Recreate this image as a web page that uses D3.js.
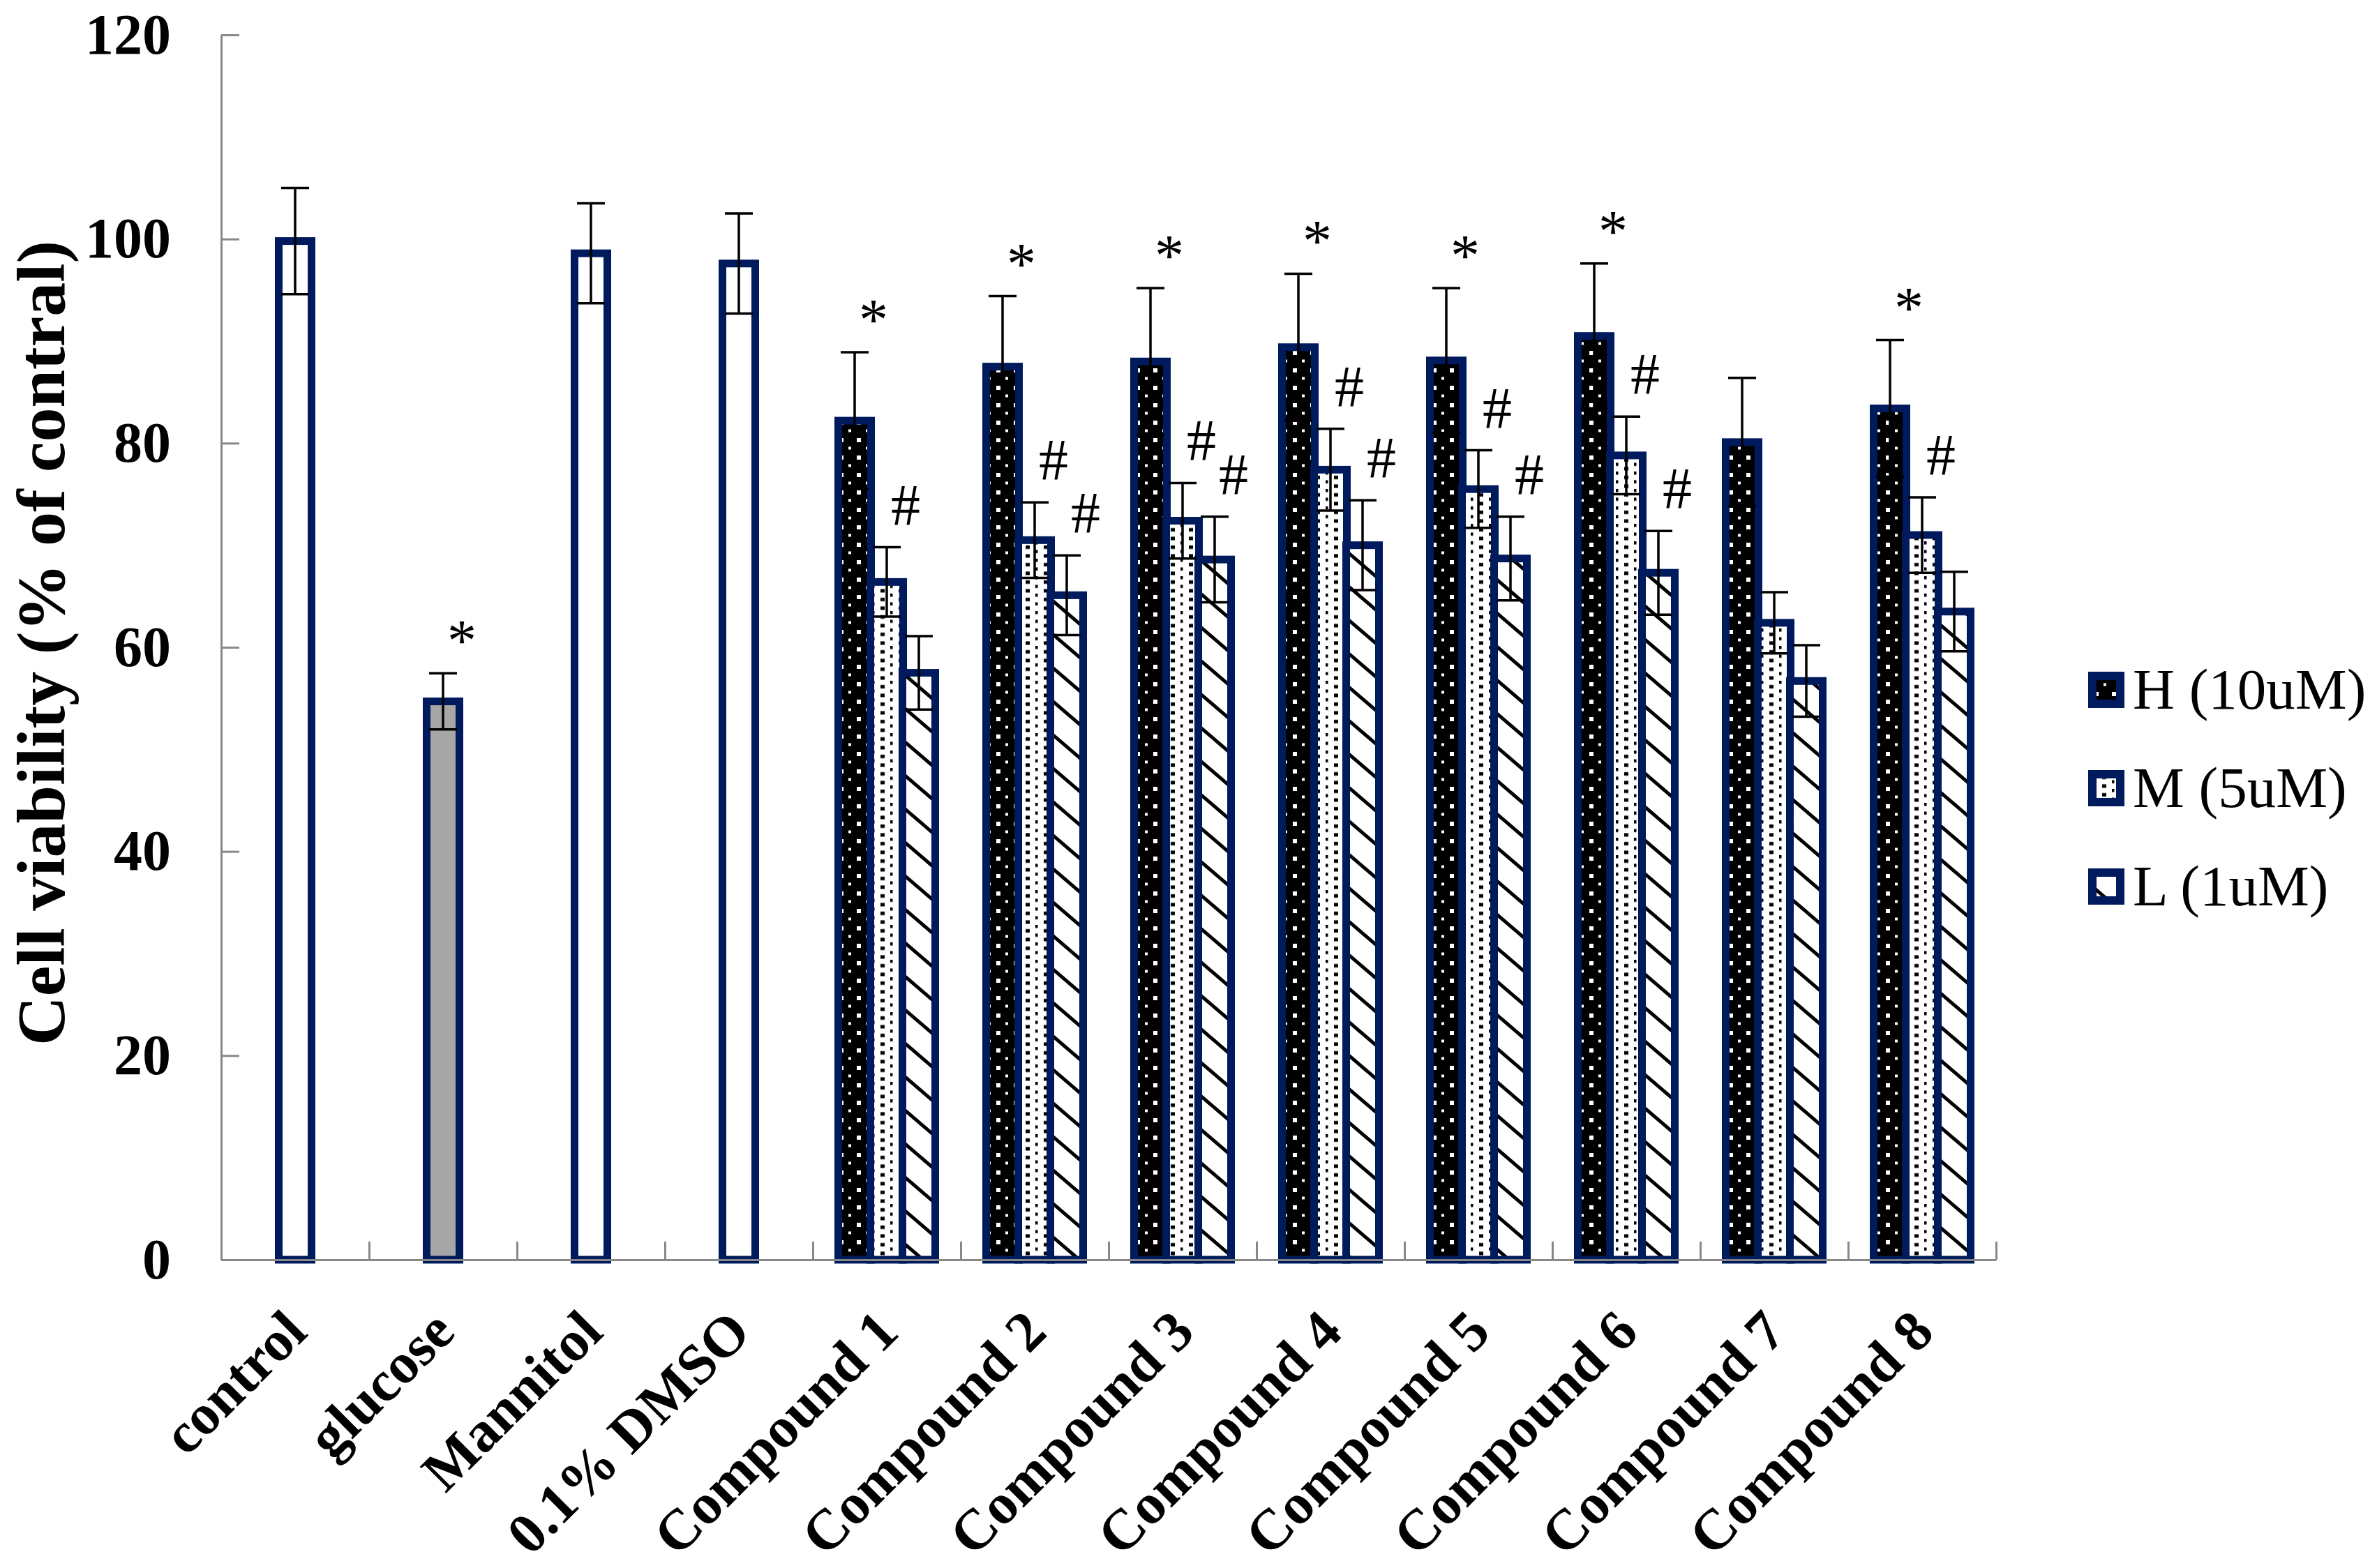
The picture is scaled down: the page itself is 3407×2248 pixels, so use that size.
<!DOCTYPE html>
<html>
<head>
<meta charset="utf-8">
<script src="https://cdn.jsdelivr.net/npm/d3@7"></script>
<style>
  body { margin: 0; background: #fff; }
  svg { display: block; }
</style>
</head>
<body>
<svg id="chart" width="3407" height="2248"></svg>
<script>
// data
var categories = ["control", "glucose", "Mannitol", "0.1% DMSO",
  "Compound 1", "Compound 2", "Compound 3", "Compound 4",
  "Compound 5", "Compound 6", "Compound 7", "Compound 8"];

var singleValues = [99.8, 54.7, 98.6, 97.6];
var singleErrors = [5.2, 2.75, 4.9, 4.9];
var singleMarks  = ["", "*", "", ""];

var seriesNames = ["H (10uM)", "M (5uM)", "L (1uM)"];

var hValues = [82.2, 87.5, 88.0, 89.4, 88.1, 90.5, 80.1, 83.4];
var hErrors = [6.7, 6.9, 7.2, 7.2, 7.1, 7.1, 6.3, 6.7];
var hMarks  = ["*", "*", "*", "*", "*", "*", "", "*"];

var mValues = [66.4, 70.5, 72.4, 77.4, 75.5, 78.8, 62.4, 71.0];
var mErrors = [3.4, 3.7, 3.7, 4.0, 3.8, 3.8, 3.0, 3.7];
var mMarks  = ["#", "#", "#", "#", "#", "#", "", "#"];

var lValues = [57.5, 65.1, 68.6, 70.0, 68.7, 67.3, 56.7, 63.5];
var lErrors = [3.6, 3.9, 4.2, 4.4, 4.1, 4.1, 3.5, 3.9];
var lMarks  = ["", "#", "#", "#", "#", "#", "", ""];

var yTicks = [0, 20, 40, 60, 80, 100, 120];

var navy = "#001a5e",
    axisGrey = "#888888",
    serif = "'Liberation Serif', 'Times New Roman', serif";

var svg = d3.select("#chart");

// fill patterns
var defs = svg.append("defs");

var pH = defs.append("pattern").attr("id", "patH")
    .attr("patternUnits", "userSpaceOnUse").attr("width", 25).attr("height", 25);
pH.append("rect").attr("width", 25).attr("height", 25).attr("fill", "#000");
pH.append("rect").attr("x", 3).attr("y", 3).attr("width", 6).attr("height", 6).attr("fill", "#fff");
pH.append("rect").attr("x", 16).attr("y", 15.5).attr("width", 4).attr("height", 4).attr("fill", "#fff");

var pM = defs.append("pattern").attr("id", "patM")
    .attr("patternUnits", "userSpaceOnUse").attr("width", 26).attr("height", 12.5);
pM.append("rect").attr("width", 26).attr("height", 12.5).attr("fill", "#fff");
pM.append("rect").attr("x", 2).attr("y", 1).attr("width", 3.5).attr("height", 4.5).attr("fill", "#000");
pM.append("rect").attr("x", 14).attr("y", 7).attr("width", 6).attr("height", 5).attr("fill", "#000");

var pL = defs.append("pattern").attr("id", "patL")
    .attr("patternUnits", "userSpaceOnUse").attr("width", 56).attr("height", 48);
pL.append("rect").attr("width", 56).attr("height", 48).attr("fill", "#fff");
pL.append("path").attr("d", "M-7,-6L63,54M-7,42L7,54M49,-6L63,6")
    .attr("stroke", "#000").attr("stroke-width", 5);

var fills = ["url(#patH)", "url(#patM)", "url(#patL)"];

// scales
var x = d3.scaleBand().domain(categories).range([317, 2861]).padding(0);
var x1 = d3.scaleBand().domain(seriesNames).range([-69, 69]).padding(0);
var y = d3.scaleLinear().domain([0, 120]).range([1806, 50]);

// build bar list
var bars = [];
singleValues.forEach(function(v, i) {
  bars.push({ cat: categories[i], slot: seriesNames[1], value: v, err: singleErrors[i],
              mark: singleMarks[i], fill: i === 1 ? "#a6a6a6" : "#fff" });
});
var groups = [[hValues, hErrors, hMarks], [mValues, mErrors, mMarks], [lValues, lErrors, lMarks]];
categories.slice(4).forEach(function(c, i) {
  groups.forEach(function(s, k) {
    bars.push({ cat: c, slot: seriesNames[k], value: s[0][i], err: s[1][i],
                mark: s[2][i], fill: fills[k] });
  });
});

function cx(d) { return x(d.cat) + x.bandwidth() / 2 + x1(d.slot) + x1.bandwidth() / 2; }
var barW = 47, capW = 40;

svg.append("g").selectAll("rect")
  .data(bars)
  .enter().append("rect")
    .attr("x", function(d) { return cx(d) - barW / 2; })
    .attr("y", function(d) { return y(d.value); })
    .attr("width", barW)
    .attr("height", function(d) { return y(0) - y(d.value); })
    .attr("fill", function(d) { return d.fill; })
    .attr("stroke", navy)
    .attr("stroke-width", 11);

// error bars
var eb = svg.append("g").attr("stroke", "#000").attr("stroke-width", 3.5)
  .selectAll("g").data(bars).enter().append("g");
eb.append("line")
    .attr("x1", cx).attr("x2", cx)
    .attr("y1", function(d) { return y(d.value + d.err); })
    .attr("y2", function(d) { return y(d.value - d.err); });
eb.append("line")
    .attr("x1", function(d) { return cx(d) - capW / 2; })
    .attr("x2", function(d) { return cx(d) + capW / 2; })
    .attr("y1", function(d) { return y(d.value + d.err); })
    .attr("y2", function(d) { return y(d.value + d.err); });
eb.append("line")
    .attr("x1", function(d) { return cx(d) - capW / 2; })
    .attr("x2", function(d) { return cx(d) + capW / 2; })
    .attr("y1", function(d) { return y(d.value - d.err); })
    .attr("y2", function(d) { return y(d.value - d.err); });

// significance marks
svg.append("g").selectAll("text")
  .data(bars.filter(function(d) { return d.mark; }))
  .enter().append("text")
    .attr("x", function(d) { return cx(d) + 27; })
    .attr("y", function(d) { return y(d.value + d.err) - (d.mark === "*" ? 18 : 32); })
    .attr("text-anchor", "middle")
    .attr("font-family", serif)
    .attr("font-size", 84)
    .text(function(d) { return d.mark; });

// y axis
var yAxis = svg.append("g")
    .attr("transform", "translate(317,0)")
    .call(d3.axisLeft(y).tickValues(yTicks).tickSizeInner(-26).tickSizeOuter(0).tickPadding(72));
yAxis.selectAll("path, line").attr("stroke", axisGrey).attr("stroke-width", 3);
yAxis.selectAll("text")
    .attr("font-family", serif).attr("font-size", 82).attr("font-weight", "bold").attr("fill", "#000");

// x axis: category labels
var xAxis = svg.append("g")
    .attr("transform", "translate(0,1806)")
    .call(d3.axisBottom(x).tickSize(0).tickPadding(0));
xAxis.select(".domain").attr("stroke", axisGrey).attr("stroke-width", 3);
xAxis.selectAll("text")
    .attr("y", 0).attr("dy", "0.35em")
    .attr("transform", "translate(0,87) rotate(-45)")
    .attr("text-anchor", "end")
    .attr("font-family", serif).attr("font-size", 82).attr("font-weight", "bold").attr("fill", "#000");

// x axis: boundary ticks between categories
var xb = d3.scaleLinear().domain([0, categories.length]).range(x.range());
var xTicks = svg.append("g")
    .attr("transform", "translate(0,1806)")
    .call(d3.axisBottom(xb).ticks(categories.length).tickSize(-26).tickFormat(""));
xTicks.select(".domain").remove();
xTicks.selectAll("line").attr("stroke", axisGrey).attr("stroke-width", 3);

// y title
svg.append("text")
    .attr("transform", "translate(92,922) rotate(-90)")
    .attr("text-anchor", "middle")
    .attr("font-family", serif).attr("font-size", 98).attr("font-weight", "bold")
    .text("Cell viability (% of contral)");

// legend
var legend = svg.append("g").selectAll("g")
  .data(seriesNames)
  .enter().append("g")
    .attr("transform", function(d, i) { return "translate(2999," + (989 + i * 141) + ")"; });
legend.append("rect")
    .attr("x", 0).attr("y", -20).attr("width", 40).attr("height", 40)
    .attr("fill", function(d, i) { return fills[i]; })
    .attr("stroke", navy).attr("stroke-width", 12);
legend.append("text")
    .attr("x", 58).attr("dy", "0.32em")
    .attr("font-family", serif).attr("font-size", 83)
    .text(function(d) { return d; });
</script>
</body>
</html>
